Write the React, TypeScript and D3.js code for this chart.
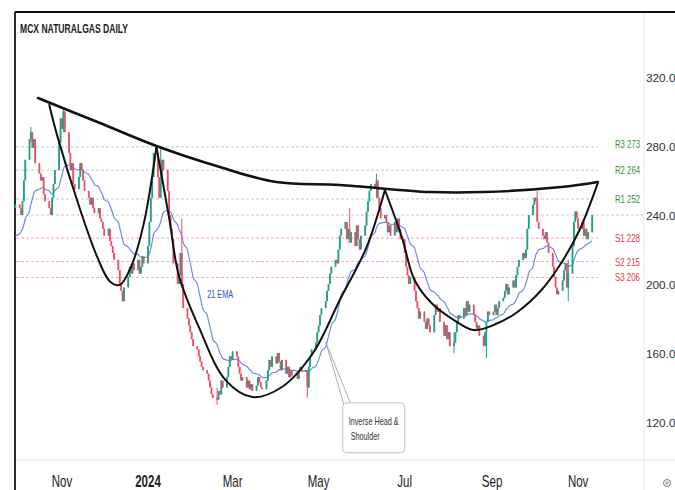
import React from 'react';
import * as d3 from 'd3';

const W = 675;
const H = 490;

const startDate = '2023-09-29';
const endDate = '2024-11-11';

// daily closes (one per weekday)
const closes: number[] = [
  246,
  244, 240, 248, 260, 272,
  284, 288, 279, 284, 270,
  264, 260, 262, 252, 248,
  244, 240, 250, 258, 266,
  282, 296, 290, 300, 288,
  276, 266, 270, 258, 255,
  262, 270, 266, 260, 254,
  250, 246, 250, 244, 241,
  244, 238, 236, 232, 228,
  232, 225, 222, 218, 214,
  208, 200, 196, 190, 198,
  204, 210, 206, 212, 208,
  214, 206, 210, 216, 212,
  222, 236, 250, 262, 276,
  262, 250, 258, 272, 266,
  254, 240, 232, 226, 212,
  200, 205, 218, 200, 186,
  180, 176, 172, 168, 164,
  162, 158, 155, 152, 150,
  148, 144, 140, 136, 134,
  133, 138, 136, 144, 140,
  146, 152, 158, 156, 161,
  158, 152, 148, 144, 146,
  140, 144, 139, 142, 138,
  141, 146, 143, 140, 139,
  144, 150, 156, 152, 158,
  154, 160, 155, 150, 156,
  148, 152, 146, 150, 147,
  148, 145, 150, 152, 149,
  150, 140, 152, 158, 162,
  166, 172, 176, 182, 186,
  190, 196, 200, 206, 210,
  214, 212, 220, 228, 232,
  236, 226, 232, 224, 230,
  222, 234, 226, 220, 228,
  234, 242, 248, 254, 258,
  256, 260, 250, 244, 238,
  240, 236, 230, 234, 228,
  236, 230, 238, 232, 226,
  218, 210, 205, 200, 204,
  196, 190, 186, 180, 184,
  178, 174, 180, 176, 172,
  182, 188, 184, 186, 178,
  170, 176, 168, 172, 164,
  166, 172, 178, 182, 180,
  186, 182, 190, 184, 188,
  182, 178, 174, 176, 170,
  164, 172, 178, 184, 182,
  184, 188, 182, 186, 190,
  192, 196, 200, 194, 198,
  202, 198, 205, 210, 214,
  218, 215, 220, 232, 240,
  246, 250, 248, 236, 232,
  228, 226, 230, 224, 218,
  210, 204, 198, 194, 196,
  202, 208, 212, 198, 206,
  222, 236, 242, 238, 232,
  236, 228, 232, 226, 230,
  240,
];
const firstOpen = 244;
const emaSeed = 226;
const emaPeriod = 21;

// notable wicks: date, high, low
const wicks: [string, number, number][] = [
  ['2023-10-10', 291, 282],
  ['2023-11-02', 302, 288],
  ['2024-01-10', 280, 262],
  ['2024-01-25', 238, 198],
  ['2024-02-19', 140, 130],
  ['2024-04-23', 150, 134],
  ['2024-05-23', 244, 224],
  ['2024-06-11', 264, 250],
  ['2024-08-05', 172, 160],
  ['2024-08-28', 178, 157],
  ['2024-10-03', 254, 244],
  ['2024-10-25', 214, 190],
];

const yTicks = [120, 160, 200, 240, 280, 320];
const levelNames = ['R3 273', 'R2 264', 'R1 252', 'S1 228', 'S2 215', 'S3 206'];
const levelPrices = [279.5, 266, 249.3, 226.6, 213, 203.8];
const levelKinds = ['r', 'r', 'r', 's', 's', 's'];
const gridPrice = 240;

const necklinePts: [string, number][] = [
  ['2023-10-15', 307.8], ['2023-11-28', 293.3], ['2024-01-07', 280.0],
  ['2024-02-21', 267.8], ['2024-04-01', 259.1], ['2024-05-16', 257.4],
  ['2024-07-19', 253.3], ['2024-08-26', 253.3], ['2024-10-20', 256.2],
  ['2024-11-15', 259.1],
];
const leftShoulderPts: [string, number][] = [
  ['2023-10-23', 303.8], ['2023-10-29', 285], ['2023-11-14', 242.9],
  ['2023-11-26', 215.7], ['2023-12-05', 201.5], ['2023-12-12', 199.5],
  ['2023-12-20', 210], ['2023-12-29', 235], ['2024-01-07', 279.4],
];
const headPts: [string, number][] = [
  ['2024-01-07', 279.4], ['2024-01-16', 238.3],
  ['2024-01-23', 204.6], ['2024-02-06', 175.1], ['2024-02-25', 144.3],
  ['2024-03-15', 134.5], ['2024-04-05', 140.3], ['2024-04-27', 160],
  ['2024-05-16', 190.7], ['2024-06-04', 221.4], ['2024-06-17', 254.5],
];
const rightShoulderPts: [string, number][] = [
  ['2024-06-17', 254.5], ['2024-06-29', 227.2], ['2024-07-08', 202.3],
  ['2024-07-20', 189], ['2024-08-05', 179.1], ['2024-08-19', 173.3],
  ['2024-09-02', 176.2], ['2024-09-18', 183.2], ['2024-10-06', 196.5],
  ['2024-10-20', 212.2], ['2024-11-02', 231.3], ['2024-11-15', 258.6],
];

const calloutTip: [string, number] = ['2024-05-06', 166.5];
const calloutText = ['Inverse Head &', 'Shoulder'];
const emaLabel: [string, number, string] = ['2024-02-12', 192, '21 EMA'];
const title = 'MCX NATURALGAS DAILY';

const parse = d3.timeParse('%Y-%m-%d');

export default function App() {
  const left = 14;
  const plotRight = 643;
  const bottom = 460;

  const x = d3.scaleTime()
    .domain([new Date(2023, 8, 28), new Date(2024, 11, 17)])
    .range([left, plotRight]);
  const y = d3.scaleLinear().domain([120, 320]).range([422, 77]);

  const days = d3.timeDay
    .range(parse(startDate)!, d3.timeDay.offset(parse(endDate)!, 1))
    .filter((d) => d.getDay() !== 0 && d.getDay() !== 6);
  const n = Math.min(days.length, closes.length);
  const wickMap = new Map(wicks.map((w) => [w[0], w]));
  const fmt = d3.timeFormat('%Y-%m-%d');

  const candles = d3.range(n).map((i) => {
    const o = i === 0 ? firstOpen : closes[i - 1];
    const c = closes[i];
    const w = wickMap.get(fmt(days[i]));
    const hi = w ? Math.max(w[1], o, c) : Math.max(o, c);
    const lo = w ? Math.min(w[2], o, c) : Math.min(o, c);
    return { d: days[i], o, c, hi, lo };
  });

  const k = 2 / (emaPeriod + 1);
  const ema: { d: Date; v: number }[] = [];
  let prev = emaSeed;
  candles.forEach((cd) => {
    prev = cd.c * k + prev * (1 - k);
    ema.push({ d: cd.d, v: prev });
  });

  const lineE = d3.line<{ d: Date; v: number }>().x((p) => x(p.d)).y((p) => y(p.v)).curve(d3.curveMonotoneX);
  const lineP = d3.line<[string, number]>().x((p) => x(parse(p[0])!)).y((p) => y(p[1])).curve(d3.curveCatmullRom.alpha(0.5));

  const up = '#1f9f86';
  const dn = '#ee4d66';
  const cw = 1.8;

  const tipX = x(parse(calloutTip[0])!);
  const tipY = y(calloutTip[1]);
  const boxX = tipX + 17;
  const boxY = tipY + 61;

  const monthTicks = x.ticks(d3.timeMonth.every(2)!);
  const font = 'Liberation Sans, Arial, sans-serif';

  return (
    <svg width={W} height={H} style={{ position: 'absolute', left: 0, top: 0, background: '#fff' }}>
      <rect x={0} y={0} width={W} height={H} fill="#fff" />
      {/* frame */}
      <line x1={15} y1={12} x2={W} y2={12} stroke="#111" strokeWidth={1.8} />
      <line x1={15} y1={12} x2={15} y2={H} stroke="#111" strokeWidth={1.8} />
      <line x1={plotRight + 1} y1={13} x2={plotRight + 1} y2={H} stroke="#e6e8ee" strokeWidth={1} />
      <line x1={16} y1={bottom} x2={W} y2={bottom} stroke="#e6e8ee" strokeWidth={1} />

      {/* grid line */}
      <line x1={16} x2={plotRight} y1={y(gridPrice)} y2={y(gridPrice)} stroke="#c8c8c8" strokeWidth={1} strokeDasharray="3,2" />

      {/* levels */}
      {levelPrices.map((p, i) => (
        <line key={'lv' + i} x1={16} x2={598} y1={y(p)} y2={y(p)}
          stroke={levelKinds[i] === 'r' ? '#b9d2b4' : '#f3a9b4'} strokeWidth={1} strokeDasharray="3,2" />
      ))}

      {/* EMA */}
      <path d={lineE(ema) || ''} fill="none" stroke="#6f8de0" strokeWidth={1.2} />

      {/* candles */}
      {candles.map((cd, i) => {
        const cx = x(cd.d);
        const col = cd.c >= cd.o ? up : dn;
        const top = y(Math.max(cd.o, cd.c));
        const bot = y(Math.min(cd.o, cd.c));
        return (
          <g key={'c' + i}>
            <line x1={cx} x2={cx} y1={y(cd.hi)} y2={y(cd.lo)} stroke={col} strokeWidth={1} />
            <rect x={cx - cw / 2} y={top} width={cw} height={Math.max(1, bot - top)} fill={col} />
          </g>
        );
      })}

      {/* pattern curves */}
      <path d={lineP(necklinePts) || ''} fill="none" stroke="#111" strokeWidth={2.6} strokeLinecap="round" />
      <path d={lineP(leftShoulderPts) || ''} fill="none" stroke="#111" strokeWidth={2} strokeLinecap="round" />
      <path d={lineP(headPts) || ''} fill="none" stroke="#111" strokeWidth={2} strokeLinecap="round" />
      <path d={lineP(rightShoulderPts) || ''} fill="none" stroke="#111" strokeWidth={2} strokeLinecap="round" />

      {/* level labels */}
      {levelNames.map((t, i) => (
        <text key={'ll' + i} x={615} y={y(levelPrices[i]) + (i === 0 ? 1 : 4)} fontSize={10.5} fontFamily={font}
          textLength={25} lengthAdjust="spacingAndGlyphs"
          fill={levelKinds[i] === 'r' ? '#3d8f3d' : '#e8344c'}>{t}</text>
      ))}

      {/* EMA label */}
      <text x={x(parse(emaLabel[0])!)} y={y(emaLabel[1])} fontSize={10.5} fontFamily={font} fill="#3552d8"
        textLength={26} lengthAdjust="spacingAndGlyphs">{emaLabel[2]}</text>

      {/* callout */}
      <path d={`M${tipX},${tipY} L${boxX + 1},${boxY + 1} M${tipX},${tipY} L${boxX + 8},${boxY + 1}`} stroke="#9a9a9a" strokeWidth={0.8} fill="none" />
      <rect x={boxX} y={boxY} width={62} height={50} rx={4} fill="#fff" stroke="#c4c4c4" strokeWidth={1} />
      <text x={boxX + 6} y={boxY + 22} fontSize={10.5} fontFamily={font} fill="#333" textLength={50} lengthAdjust="spacingAndGlyphs">{calloutText[0]}</text>
      <text x={boxX + 8} y={boxY + 37} fontSize={10.5} fontFamily={font} fill="#333" textLength={29} lengthAdjust="spacingAndGlyphs">{calloutText[1]}</text>

      {/* title */}
      <text x={20} y={33} fontSize={13} fontWeight="bold" fontFamily={font} fill="#222" textLength={108} lengthAdjust="spacingAndGlyphs">{title}</text>

      {/* y axis labels */}
      {yTicks.map((t) => (
        <text key={'y' + t} x={646} y={y(t) + 4.5} fontSize={11.8} fontFamily={font} fill="#333">
          {t.toFixed(1)}
        </text>
      ))}

      {/* x axis labels */}
      {monthTicks.map((d, i) => {
        const isYear = d.getMonth() === 0;
        const label = isYear ? d3.timeFormat('%Y')(d) : d3.timeFormat('%b')(d);
        return (
          <text key={'x' + i} transform={`translate(${x(d)},487) scale(0.72,1)`} textAnchor="middle" fontSize={16}
            fontWeight={isYear ? 'bold' : 'normal'} fontFamily={font} fill="#222">{label}</text>
        );
      })}

      {/* settings icon */}
      <circle cx={667} cy={483} r={3.5} fill="none" stroke="#777" strokeWidth={1} />
      <circle cx={667} cy={483} r={1.2} fill="none" stroke="#777" strokeWidth={0.8} />
    </svg>
  );
}
